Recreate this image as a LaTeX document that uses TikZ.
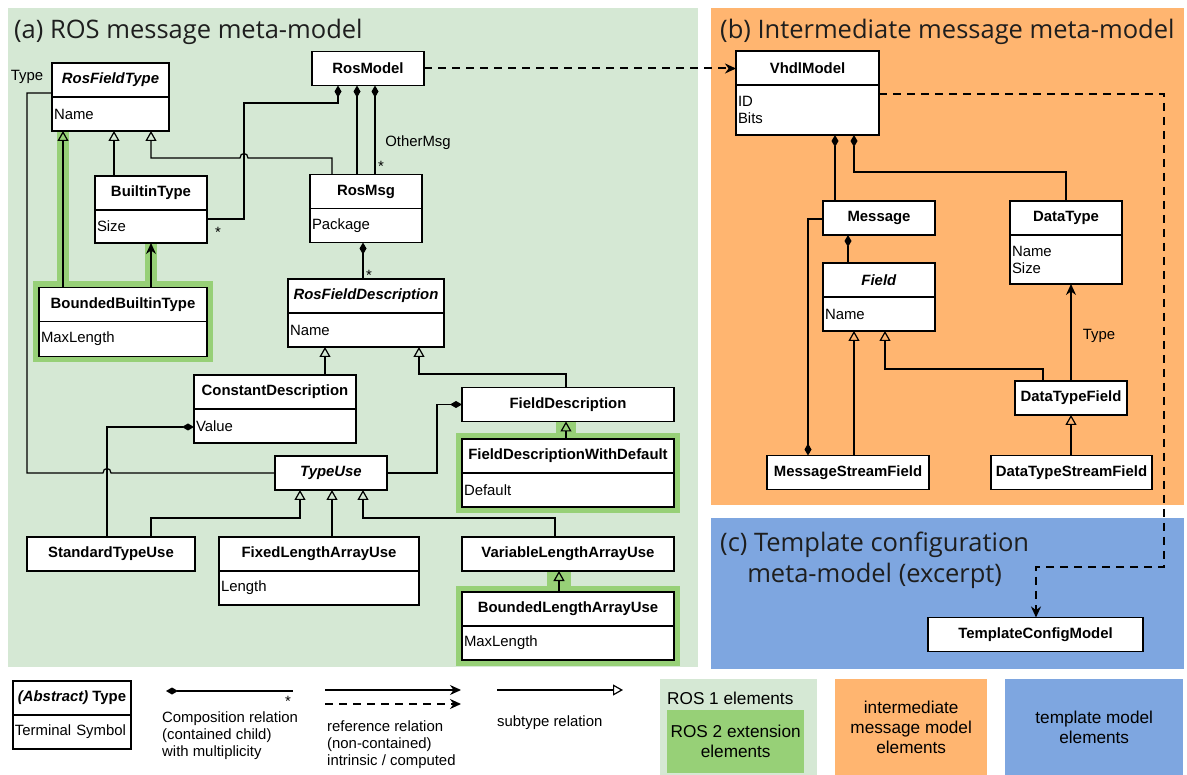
\documentclass[tikz,border=0pt]{standalone}
\usepackage{fontspec}
\setmainfont{Liberation Sans}
\newfontfamily\titlefont{Open Sans}
\usepackage{tikz}
\usetikzlibrary{arrows.meta, positioning, fit, backgrounds, calc}
\definecolor{rosone}{HTML}{D5E8D4}
\definecolor{rostwo}{HTML}{97D077}
\definecolor{imcol}{HTML}{FFB570}
\definecolor{tmplcol}{HTML}{7EA6E0}
\definecolor{titlegray}{HTML}{1E1E1E}
\newcommand{\umlsize}{\fontsize{14.9}{17}\selectfont}
\newcommand{\legsize}{\fontsize{17.2}{20}\selectfont}
\newcommand{\titlesize}{\fontsize{25.5}{31}\selectfont}

\begin{document}
\begin{tikzpicture}[
  x=1pt, y=-1pt,
  clshead/.style  = {draw, line width=1.2pt, fill=white, minimum height=34pt,
                     inner sep=0pt, outer sep=0pt, font=\umlsize\bfseries},
  clsbody/.style  = {draw, line width=1.2pt, fill=white, anchor=north, align=left,
                     inner xsep=2pt, inner ysep=0pt, outer sep=0pt, font=\umlsize},
  lbl/.style      = {font=\umlsize, inner sep=1pt},
  legtext/.style  = {font=\umlsize, align=left, inner sep=0pt, anchor=north west},
  legbox/.style   = {minimum height=96pt, anchor=north west, align=center,
                     inner sep=0pt, font=\legsize},
  titletext/.style= {font=\titlefont\titlesize, text=titlegray, inner sep=0pt},
  ros2box/.style  = {fill=rostwo, inner sep=6pt, outer sep=0pt},
  ros2line/.style = {draw=rostwo},
  assoc/.style    = {line width=1.2pt},
  subarr/.style   = {line width=1.2pt, -{Triangle[open, length=10pt, width=11pt]}},
  comparr/.style  = {line width=1.2pt, {Diamond[length=12pt, width=7pt]}-},
  refarr/.style   = {line width=1.2pt, -{Stealth[length=11pt, width=10pt]}},
  dashref/.style  = {line width=2pt, dash pattern=on 8pt off 6pt,
                     -{Stealth[length=11pt, width=10pt]}},
]
\useasboundingbox (0,0) rectangle (1187,775);

%% Titles
\node[titletext, anchor=base west] (ttla) at (14,38.5) {(a) ROS message meta-model};
\node[titletext, anchor=base west] (ttlb) at (720,38.5) {(b) Intermediate message meta-model};
\node[titletext, anchor=north west, align=center] (ttlc) at (720,532)
  {(c) Template configuration\\meta-model (excerpt)};

%% ROS message meta-model
\node[clshead, minimum width=117pt] (rft) at (110.5,80) {\textit{RosFieldType}};
\node[clsbody, text width=113pt, minimum height=34pt] (rftb) at (rft.south) {Name};
\node[clshead, minimum width=112pt] (rosm) at (368,68.5) {RosModel};
\node[clshead, minimum width=112pt] (bit) at (151,193) {BuiltinType};
\node[clsbody, text width=108pt, minimum height=33pt] (bitb) at (bit.south) {Size};
\node[clshead, minimum width=112pt] (msg) at (366,191.5) {RosMsg};
\node[clsbody, text width=108pt, minimum height=34pt] (msgb) at (msg.south) {Package};
\node[clshead, minimum width=168pt] (bbt) at (123,304.5) {BoundedBuiltinType};
\node[clsbody, text width=164pt, minimum height=35pt] (bbtb) at (bbt.south) {MaxLength};
\node[clshead, minimum width=156pt] (rfd) at (366,296) {\textit{RosFieldDescription}};
\node[clsbody, text width=152pt, minimum height=34pt] (rfdb) at (rfd.south) {Name};
\node[clshead, minimum width=162pt] (cdesc) at (275,392) {ConstantDescription};
\node[clsbody, text width=158pt, minimum height=34pt] (cdescb) at (cdesc.south) {Value};
\node[clshead, minimum width=212pt] (fdesc) at (568,404.5) {FieldDescription};
\node[clshead, minimum width=212pt] (fdwd) at (568,456) {FieldDescriptionWithDefault};
\node[clsbody, text width=208pt, minimum height=34pt] (fdwdb) at (fdwd.south) {Default};
\node[clshead, minimum width=112pt] (tuse) at (331,473) {\textit{TypeUse}};
\node[clshead, minimum width=168pt] (stu) at (111,554) {StandardTypeUse};
\node[clshead, minimum width=200pt] (flau) at (319,554) {FixedLengthArrayUse};
\node[clsbody, text width=196pt, minimum height=34pt] (flaub) at (flau.south) {Length};
\node[clshead, minimum width=212pt] (vlau) at (568,554) {VariableLengthArrayUse};
\node[clshead, minimum width=212pt] (blau) at (568,609) {BoundedLengthArrayUse};
\node[clsbody, text width=208pt, minimum height=34pt] (blaub) at (blau.south) {MaxLength};

%% Intermediate message meta-model
\node[clshead, minimum width=143pt] (vhdl) at (807.5,68) {VhdlModel};
\node[clsbody, text width=139pt, minimum height=50pt] (vhdlb) at (vhdl.south) {ID\\Bits};
\node[clshead, minimum width=112pt] (mesg) at (879,218) {Message};
\node[clshead, minimum width=112pt] (dtype) at (1066,218) {DataType};
\node[clsbody, text width=108pt, minimum height=49pt] (dtypeb) at (dtype.south) {Name\\Size};
\node[clshead, minimum width=112pt] (field) at (879,280) {\textit{Field}};
\node[clsbody, text width=108pt, minimum height=34pt] (fieldb) at (field.south) {Name};
\node[clshead, minimum width=112pt] (dtf) at (1071,398) {DataTypeField};
\node[clshead, minimum width=162pt] (msf) at (848,472.5) {MessageStreamField};
\node[clshead, minimum width=161pt] (dtsf) at (1071.5,472.5) {DataTypeStreamField};

%% Template configuration
\node[clshead, minimum width=215pt] (tcm) at (1035.5,634.5) {TemplateConfigModel};

%% Relations in (a)
\draw[subarr] (bbt.north -| 63,0) -- (rftb.south -| 63,0);
\draw[subarr] (bit.north -| 114,0) -- (rftb.south -| 114,0);
\draw[subarr] (msg.north -| 332,0) -- (332,158) -- (248,158)
  .. controls (248,152) and (240,152) .. (240,158) -- (151,158) -- (rftb.south -| 151,0);
\draw[refarr] (bbt.north -| 151,0) -- (bitb.south -| 151,0);
\draw[comparr] (rosm.south -| 338,0) -- (338,103) -- (244,103) -- (244,219) -- (bitb.east |- 0,219);
\draw[comparr] (rosm.south -| 357,0) -- (msg.north -| 357,0);
\draw[comparr] (rosm.south -| 375,0) -- (msg.north -| 375,0);
\draw[comparr] (msgb.south -| 363,0) -- (rfd.north -| 363,0);
\draw[subarr] (cdesc.north -| 325,0) -- (rfdb.south -| 325,0);
\draw[subarr] (fdesc.north -| 566,0) -- (566,374) -- (419,374) -- (rfdb.south -| 419,0);
\draw[subarr] (fdwd.north -| 566,0) -- (fdesc.south -| 566,0);
\draw[comparr] (fdesc.west) -- (fdesc.west -| 437,0) -- (tuse.east -| 437,0) -- (tuse.east);
\draw[comparr] (cdescb.west |- 0,427) -- (107,427) -- (stu.north -| 107,0);
\draw[assoc] (tuse.west) -- (111,473) .. controls (111,467) and (103,467) .. (103,473)
  -- (27,473) -- (27,93) -- (rft.west |- 0,93);
\draw[subarr] (stu.north -| 151,0) -- (151,518) -- (300,518) -- (tuse.south -| 300,0);
\draw[subarr] (flau.north -| 332,0) -- (tuse.south -| 332,0);
\draw[subarr] (vlau.north -| 555,0) -- (555,518) -- (363,518) -- (tuse.south -| 363,0);
\draw[subarr] (blau.north -| 559,0) -- (vlau.south -| 559,0);

\node[lbl] (typelbl) at (27,77) {Type};
\node[lbl] (omsglbl) at (418,143) {OtherMsg};
\node[lbl] (bitstar) at (218,232) {*};
\node[lbl] (msgstar) at (381,166) {*};
\node[lbl] (rfdstar) at (369,275) {*};

%% Relations in (b)
\draw[dashref] (rosm.east) -- (vhdl.west |- rosm.east);
\draw[comparr] (vhdlb.south -| 835,0) -- (mesg.north -| 835,0);
\draw[comparr] (vhdlb.south -| 854,0) -- (854,172) -- (1066,172) -- (dtype.north);
\draw[comparr] (msf.north -| 808,0) -- (808,219) -- (mesg.west |- 0,219);
\draw[comparr] (mesg.south -| 848,0) -- (field.north -| 848,0);
\draw[subarr] (msf.north -| 854,0) -- (fieldb.south -| 854,0);
\draw[subarr] (dtf.north -| 1043,0) -- (1043,369) -- (885,369) -- (fieldb.south -| 885,0);
\draw[refarr] (dtf.north) -- (dtypeb.south -| dtf.north);
\draw[subarr] (dtf.south |- dtsf.north) -- (dtf.south);
\node[lbl] (dtlbl) at (1099,336) {Type};

%% Reference into (c)
\draw[dashref] (vhdlb.east |- 0,94) -- (1164,94) -- (1164,567) -- (1036,567) -- (tcm.north -| 1036,0);

%% Legend
\node[clshead, minimum width=118pt] (lgabs) at (72,698) {\textit{(Abstract)} Type};
\node[clsbody, text width=114pt, minimum height=34pt] (lgabsb) at (lgabs.south) {Terminal Symbol};

\coordinate (lgcomps) at (166,691);
\coordinate (lgcompe) at (293,691);
\draw[comparr] (lgcomps) -- (lgcompe);
\node[lbl] (lgstar) at (288,701) {*};
\node[legtext] (lgcomptxt) at (162,712) {Composition relation\\(contained child)\\with multiplicity};

\coordinate (lgrefs) at (325,690);
\coordinate (lgrefe) at (461,690);
\coordinate (lgdrefs) at (325,704);
\coordinate (lgdrefe) at (461,704);
\draw[refarr] (lgrefs) -- (lgrefe);
\draw[dashref] (lgdrefs) -- (lgdrefe);
\node[legtext] (lgreftxt) at (327,721) {reference relation\\(non-contained)\\intrinsic / computed};

\coordinate (lgsubs) at (497,690);
\coordinate (lgsube) at (623,690);
\draw[subarr] (lgsubs) -- (lgsube);
\node[legtext] (lgsubtxt) at (497,716) {subtype relation};

\node[legbox, fill=rosone, minimum width=157pt] (lgros1) at (660,679) {};
\node[font=\legsize, anchor=west, inner sep=0pt] (lgros1txt) at (667,698) {ROS 1 elements};
\node[legbox, fill=rostwo, minimum width=137pt, minimum height=63pt] (lgros2) at (667,710)
  {ROS 2 extension\\elements};
\node[legbox, fill=imcol, minimum width=152pt] (lgim) at (835,679)
  {intermediate\\message model\\elements};
\node[legbox, fill=tmplcol, minimum width=178pt] (lgtmpl) at (1005,679)
  {template model\\elements};

%% Panels and ROS 2 highlights
\begin{scope}[on background layer]
  \fill[rosone] (8,8) rectangle (698,667);
  \fill[imcol] (711,8) rectangle (1184,505);
  \fill[tmplcol] (711,518) rectangle (1184,669);
  \node[ros2box, fit=(bbt)(bbtb)] (bbthl) {};
  \node[ros2box, fit=(fdwd)(fdwdb)] (fdwdhl) {};
  \node[ros2box, fit=(blau)(blaub)] (blauhl) {};
  \draw[ros2line, line width=12pt] (bbt.north -| 63,0) -- (rftb.south -| 63,0);
  \draw[ros2line, line width=12pt] (bbt.north -| 151,0) -- (bitb.south -| 151,0);
  \draw[ros2line, line width=20pt] (fdwd.north -| 566,0) -- (fdesc.south -| 566,0);
  \draw[ros2line, line width=24pt] (blau.north -| 559,0) -- (vlau.south -| 559,0);
\end{scope}

\end{tikzpicture}
\end{document}
